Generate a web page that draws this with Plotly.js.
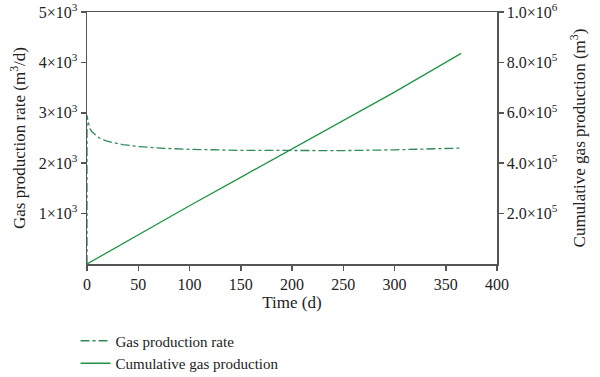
<!DOCTYPE html>
<html>
<head>
<meta charset="utf-8">
<script src="https://cdn.plot.ly/plotly-3.0.1.min.js"></script>
<style>html,body{margin:0;padding:0;background:#fff;}#chart{width:600px;height:377px;}</style>
</head>
<body>
<div id="chart"></div>
<script>
// Gas production rate (m3/d) vs time (d)
const rateTime = [0, 0.01, 0.5, 1, 2, 3, 5, 8, 12, 18, 25, 35, 50, 75, 100, 150, 200, 250, 300, 365];
const rateValues = [0, 2950, 2900, 2830, 2740, 2680, 2620, 2560, 2500, 2450, 2410, 2370, 2330, 2295, 2275, 2255, 2245, 2250, 2265, 2300];
// Cumulative gas production (m3) vs time (d)
const cumTime = [0, 50, 100, 150, 200, 250, 300, 365];
const cumValues = [0, 117000, 231000, 344000, 456000, 569000, 682000, 836000];
// Tick labels
const xTicks = [0, 50, 100, 150, 200, 250, 300, 350, 400];
const y1TickVals = [1000, 2000, 3000, 4000, 5000];
const y1TickText = ['1×10<sup>3</sup>', '2×10<sup>3</sup>', '3×10<sup>3</sup>', '4×10<sup>3</sup>', '5×10<sup>3</sup>'];
const y2TickVals = [200000, 400000, 600000, 800000, 1000000];
const y2TickText = ['2.0×10<sup>5</sup>', '4.0×10<sup>5</sup>', '6.0×10<sup>5</sup>', '8.0×10<sup>5</sup>', '1.0×10<sup>6</sup>'];

const fam = '"Liberation Serif", "DejaVu Serif", serif';
const tickFont = {family: fam, size: 16, color: '#222'};
const titleFont = {family: fam, size: 17, color: '#222'};
const axisColor = '#555';

const traces = [
  {x: rateTime, y: rateValues, name: 'Gas production rate', type: 'scatter', mode: 'lines',
   line: {color: '#2e8b57', width: 1.3, dash: 'dashdot'}, yaxis: 'y'},
  {x: cumTime, y: cumValues, name: 'Cumulative gas production', type: 'scatter', mode: 'lines',
   line: {color: '#1f9446', width: 1.3}, yaxis: 'y2'}
];

const layout = {
  width: 600, height: 377,
  margin: {l: 87, r: 103, t: 12, b: 113, autoexpand: false},
  paper_bgcolor: '#fff', plot_bgcolor: '#fff',
  font: titleFont,
  showlegend: true,
  legend: {x: -0.028, y: -0.24, xanchor: 'left', yanchor: 'top',
           font: {family: fam, size: 15, color: '#222'}, tracegroupgap: 0,
           bgcolor: 'rgba(0,0,0,0)', itemwidth: 30},
  xaxis: {range: [0, 400], tickvals: xTicks, tickangle: 0, showgrid: false, zeroline: false,
          showline: true, linecolor: axisColor, linewidth: 1.5, mirror: true,
          ticks: 'outside', ticklen: 5, tickcolor: axisColor, tickwidth: 1.5, tickfont: tickFont,
          title: {text: 'Time (d)', font: titleFont, standoff: 2}},
  yaxis: {range: [0, 5000], tickvals: y1TickVals, ticktext: y1TickText, showgrid: false, zeroline: false,
          showline: true, linecolor: axisColor, linewidth: 1.5,
          ticks: 'outside', ticklen: 5, tickcolor: axisColor, tickwidth: 1.5, tickfont: tickFont,
          title: {text: 'Gas production rate (m<sup>3</sup>/d)', font: titleFont, standoff: 8}},
  yaxis2: {range: [0, 1000000], tickvals: y2TickVals, ticktext: y2TickText, overlaying: 'y', side: 'right',
           showgrid: false, zeroline: false, showline: true, linecolor: axisColor, linewidth: 1.5,
           ticks: 'outside', ticklen: 5, tickcolor: axisColor, tickwidth: 1.5, tickfont: tickFont,
           title: {text: 'Cumulative gas production (m<sup>3</sup>)', font: titleFont, standoff: 16}}
};

Plotly.newPlot('chart', traces, layout, {displayModeBar: false, staticPlot: true});
</script>
</body>
</html>
